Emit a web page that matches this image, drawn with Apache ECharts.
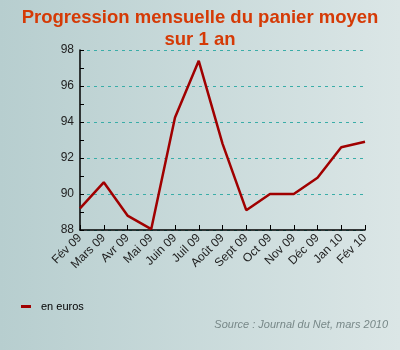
<!DOCTYPE html>
<html><head><meta charset="utf-8">
<script src="https://cdn.jsdelivr.net/npm/echarts@6/dist/echarts.min.js"></script>
<style>html,body{margin:0;padding:0;}#c{width:400px;height:350px;}</style>
</head><body><div id="c"></div>
<script>
var categories = ['Fév 09','Mars 09','Avr 09','Mai 09','Juin 09','Juil 09','Août 09','Sept 09','Oct 09','Nov 09','Déc 09','Jan 10','Fév 10'];
var values = [89.2, 90.65, 88.8, 88.05, 94.25, 97.4, 92.8, 89.1, 90.0, 90.0, 90.9, 92.6, 92.9];
var seriesName = 'en euros';
var titleText = 'Progression mensuelle du panier moyen\nsur 1 an';
var sourceText = 'Source : Journal du Net, mars 2010';

var chart = echarts.init(document.getElementById('c'));
chart.setOption({
  animation: false,
  backgroundColor: {type:'linear', x:0, y:0, x2:1, y2:0, colorStops:[{offset:0,color:'#b7cecf'},{offset:1,color:'#dbe6e6'}]},
  textStyle: {fontFamily: 'Liberation Sans, Arial, sans-serif'},
  title: [{
    text: titleText, left: 'center', top: 2,
    textStyle: {color:'#d53a06', fontSize:18.5, fontWeight:'bold', lineHeight:22, fontFamily:'Liberation Sans, Arial, sans-serif'}
  },{
    text: sourceText, right: 7, top: 314,
    textStyle: {color:'#788888', fontSize:11, fontStyle:'italic', fontWeight:'normal', fontFamily:'Liberation Sans, Arial, sans-serif'}
  }],
  legend: {
    data: [seriesName], left: 16, top: 296, icon: 'rect', itemWidth: 10, itemHeight: 3, itemGap: 10,
    textStyle: {color:'#000', fontSize:11, fontFamily:'Liberation Sans, Arial, sans-serif', padding:[0,0,0,5]}
  },
  grid: {left: 80, right: 35, top: 50, bottom: 120, containLabel: false},
  xAxis: {
    type: 'category', data: categories, boundaryGap: false,
    axisLine: {lineStyle:{color:'#000', width:1.5}},
    axisTick: {inside:true, length:5, lineStyle:{color:'#000'}},
    axisLabel: {rotate:45, margin:6, color:'#222', fontSize:12, interval:0}
  },
  yAxis: {
    type: 'value', min: 88, max: 98, interval: 2,
    axisLine: {show:true, lineStyle:{color:'#000', width:1.5}},
    axisTick: {show:true, inside:true, length:4, lineStyle:{color:'#000'}},
    minorTick: {show:true, splitNumber:2, length:4, lineStyle:{color:'#000'}},
    axisLabel: {color:'#222', fontSize:12, margin:6},
    splitLine: {show:true, lineStyle:{color:'#3aada8', type:[3,4], width:1}}
  },
  series: [{
    name: seriesName, type: 'line', data: values, showSymbol: false, symbol: 'none',
    lineStyle: {color:'#a00000', width:2.5}, itemStyle: {color:'#a00000'}
  }]
});
</script></body></html>
